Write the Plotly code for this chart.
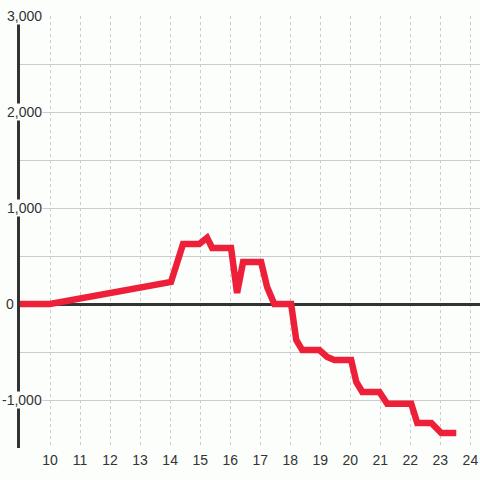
import plotly.graph_objects as go

hours = [9, 10, 14.03, 14.43, 14.97, 15.23, 15.4, 16.03, 16.23, 16.43, 17.03, 17.23, 17.47, 18.03,
         18.2, 18.4, 18.97, 19.23, 19.47, 20.03, 20.2, 20.4, 20.97, 21.23, 22.03, 22.23, 22.7, 23.03, 23.53]
values = [0, 0, 229, 625, 625, 690, 583, 583, 115, 437, 437, 177, 0, 0,
          -375, -480, -480, -552, -583, -583, -812, -917, -917, -1040, -1040, -1240, -1240, -1344, -1344]
x_ticks = list(range(10, 25))
y_ticks = [3000, 2000, 1000, 0, -1000]
y_tick_labels = ["3,000", "2,000", "1,000", "0", "-1,000"]

BG = "#FCFEFC"
FONT = dict(family="Liberation Sans, Arial", size=14, color="#333")
fig = go.Figure()
fig.add_trace(go.Scatter(x=hours, y=values, mode="lines",
                         line=dict(color="#EE2039", width=6.5), hoverinfo="skip"))

annotations = []
for v, t in zip(y_ticks, y_tick_labels):
    if v == 0:
        annotations.append(dict(x=-0.008, y=v, xref="paper", yref="y", text=t, showarrow=False,
                                xanchor="right", yanchor="middle", font=FONT))
    else:
        annotations.append(dict(x=0.05, y=v, xref="paper", yref="y", text=t, showarrow=False,
                                xanchor="right", yanchor="middle", bgcolor=BG, borderpad=0,
                                font=FONT))

fig.update_layout(
    width=480, height=480,
    margin=dict(l=20, r=0, t=16, b=32),
    paper_bgcolor=BG, plot_bgcolor=BG,
    showlegend=False,
    annotations=annotations,
    xaxis=dict(range=[9, 24.32], tickvals=x_ticks, ticktext=[str(t) for t in x_ticks],
               showgrid=True, gridcolor="#cccccc", gridwidth=1, griddash="3px,3px",
               zeroline=False, showline=False, ticks="", ticklabelstandoff=2,
               tickfont=FONT),
    yaxis=dict(range=[-1500, 3000], dtick=500, tick0=0, showticklabels=False,
               showgrid=True, gridcolor="#cccccc", gridwidth=1,
               zeroline=True, zerolinecolor="#333333", zerolinewidth=3,
               showline=True, linecolor="#333333", linewidth=3, ticks=""),
)
fig.write_html("out.html", config={"displayModeBar": False, "staticPlot": True},
               post_script="document.body.style.margin='0';document.body.style.background='%s';" % BG)
